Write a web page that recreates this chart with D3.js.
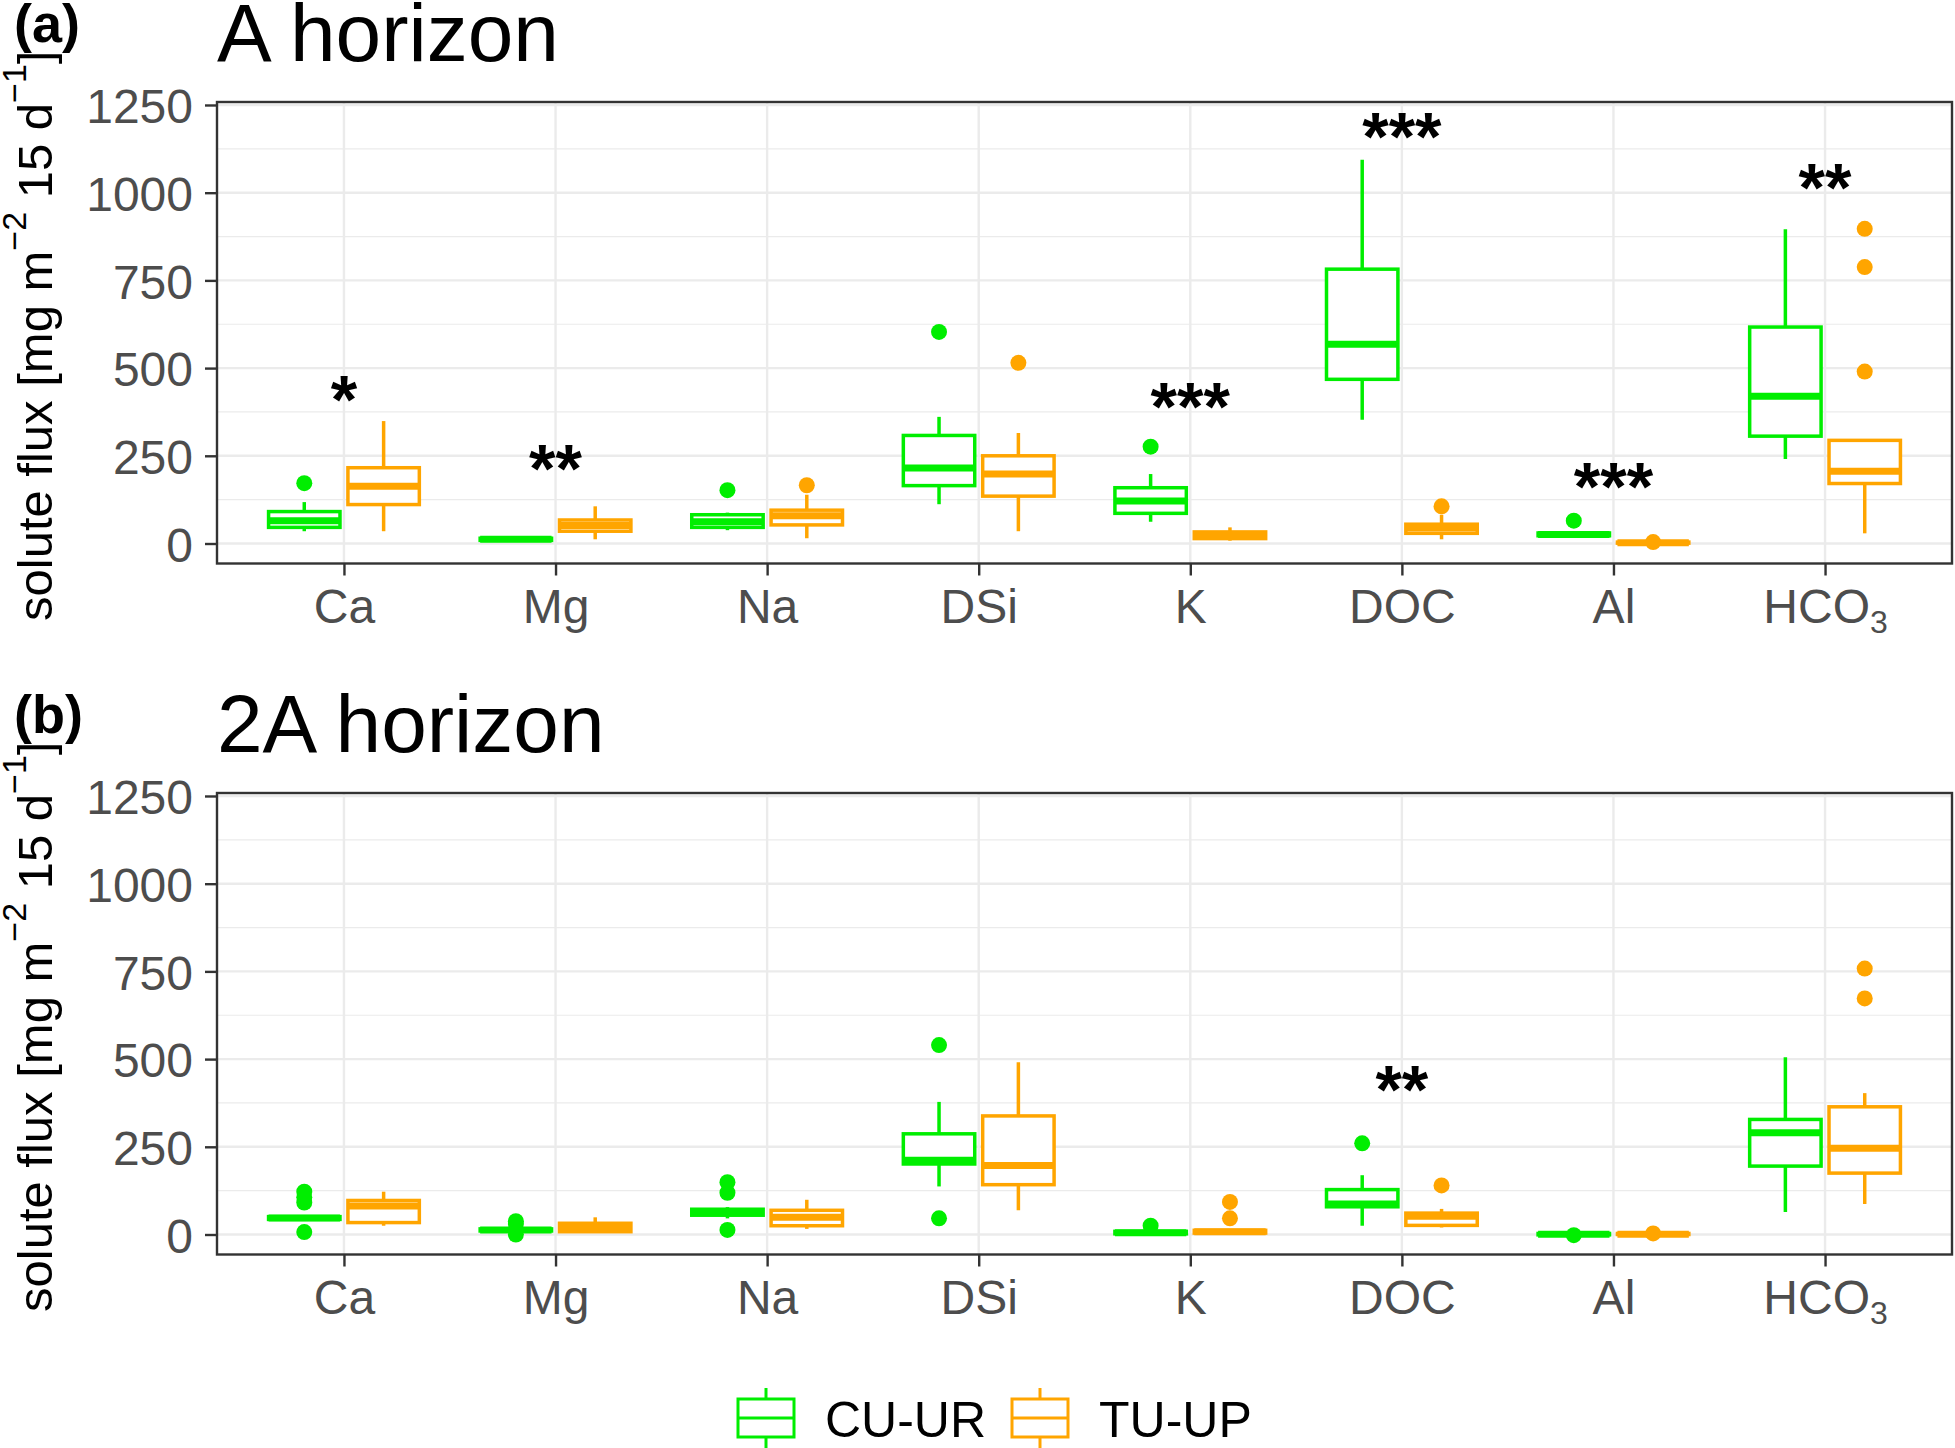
<!DOCTYPE html>
<html>
<head>
<meta charset="utf-8">
<script src="https://cdn.jsdelivr.net/npm/d3@7"></script>
<style>
  html, body { margin: 0; padding: 0; background: #fff; }
  svg { display: block; }
</style>
</head>
<body>
<svg id="chart" width="1955" height="1448"></svg>
<script>
const categories = ["Ca", "Mg", "Na", "DSi", "K", "DOC", "Al", "HCO3"];
const groups = ["CU-UR", "TU-UP"];
const groupColors = ["#00EE00", "#FFA500"];
const yTicks = [0, 250, 500, 750, 1000, 1250];
const yMinorTicks = [125, 375, 625, 875, 1125];

// box stats per category: [lower whisker, Q1, median, Q3, upper whisker]
// (a) A horizon
const aCU = [[35, 46, 65, 91, 118], [7, 9, 12, 15, 19], [38, 46, 62, 82, 88], [112, 165, 215, 308, 361],
             [62, 86, 121, 159, 198], [353, 468, 568, 782, 1094], [20, 22, 26, 30, 33], [241, 306, 420, 617, 896]];
const aTU = [[35, 111, 163, 216, 349], [12, 35, 51, 67, 106], [15, 53, 79, 95, 139], [35, 135, 198, 250, 315],
             [8, 14, 23, 33, 46], [12, 29, 44, 55, 82], [0, 1, 2, 4, 6], [29, 171, 206, 294, 294]];
const aCUout = [[172], [], [152], [603], [276], [], [65], []];
const aTUout = [[], [], [166], [515], [], [106], [4], [490, 788, 897]];
const aStars = ["*", "**", "", "", "***", "***", "***", "**"];
const aStarY = [429, 232, null, null, 408, 1179, 182, 1032];

// (b) 2A horizon
const bCU = [[40, 43, 47, 51, 54], [8, 10, 13, 16, 19], [46, 55, 64, 72, 78], [137, 201, 212, 287, 378],
             [0, 2, 5, 9, 12], [25, 79, 87, 128, 169], [-3, -1, 1, 3, 5], [64, 195, 290, 328, 505]];
const bTU = [[25, 34, 81, 97, 122], [5, 8, 20, 32, 49], [16, 25, 49, 69, 99], [69, 142, 197, 338, 491],
             [2, 4, 8, 12, 15], [20, 26, 52, 61, 73], [-2, 0, 1, 3, 4], [87, 175, 246, 364, 403]];
const bCUout = [[7, 91, 106, 122], [0, 30, 38], [13, 119, 149], [46, 540], [25], [260], [-2], []];
const bTUout = [[], [], [], [], [46, 93], [140], [3], [673, 758]];
const bStars = ["", "", "", "", "", "**", "", ""];
const bStarY = [null, null, null, null, null, 432, null, null];

const FONT = "'Liberation Sans', Arial, sans-serif";
const svg = d3.select("#chart");

const panelLeft = 217, panelRight = 1952, panelH = 461.5;
const yDomain = [-57, 1258.5];

const x = d3.scalePoint().domain(categories).range([panelLeft, panelRight]).padding(0.6);
const step = x.step();
const dodge = d3.scaleBand().domain(groups).range([-0.375 * step, 0.375 * step]);
const boxW = dodge.bandwidth() * 0.9;

const panels = [
    { top: 102, tag: "(a)", title: "A horizon", stats: [aCU, aTU], out: [aCUout, aTUout], stars: aStars, starY: aStarY },
    { top: 793, tag: "(b)", title: "2A horizon", stats: [bCU, bTU], out: [bCUout, bTUout], stars: bStars, starY: bStarY }
];

function drawPanel(p) {
    const bottom = p.top + panelH;
    const y = d3.scaleLinear().domain(yDomain).range([bottom, p.top]);
    const g = svg.append("g");

    // grid
    yMinorTicks.forEach(t => {
        g.append("line").attr("x1", panelLeft).attr("x2", panelRight)
            .attr("y1", y(t)).attr("y2", y(t))
            .attr("stroke", "#EBEBEB").attr("stroke-width", 1.2);
    });
    yTicks.forEach(t => {
        g.append("line").attr("x1", panelLeft).attr("x2", panelRight)
            .attr("y1", y(t)).attr("y2", y(t))
            .attr("stroke", "#EBEBEB").attr("stroke-width", 2.4);
    });
    categories.forEach(c => {
        g.append("line").attr("x1", x(c)).attr("x2", x(c))
            .attr("y1", p.top).attr("y2", bottom)
            .attr("stroke", "#EBEBEB").attr("stroke-width", 2.4);
    });

    // boxes
    groups.forEach((grp, gi) => {
        const col = groupColors[gi];
        categories.forEach((c, ci) => {
            const s = p.stats[gi][ci];
            const cx = x(c) + dodge(grp) + dodge.bandwidth() / 2;
            g.append("line").attr("x1", cx).attr("x2", cx)
                .attr("y1", y(s[0])).attr("y2", y(s[4]))
                .attr("stroke", col).attr("stroke-width", 3.5);
            g.append("rect")
                .attr("x", cx - boxW / 2).attr("width", boxW)
                .attr("y", y(s[3])).attr("height", Math.max(0, y(s[1]) - y(s[3])))
                .attr("fill", "white").attr("stroke", col).attr("stroke-width", 3.5);
            g.append("line").attr("x1", cx - boxW / 2).attr("x2", cx + boxW / 2)
                .attr("y1", y(s[2])).attr("y2", y(s[2]))
                .attr("stroke", col).attr("stroke-width", 7);
            p.out[gi][ci].forEach(v => {
                g.append("circle").attr("cx", cx).attr("cy", y(v)).attr("r", 8).attr("fill", col);
            });
        });
    });

    // significance stars
    categories.forEach((c, ci) => {
        if (!p.stars[ci]) return;
        g.append("text")
            .attr("x", x(c)).attr("y", y(p.starY[ci]) + 30)
            .attr("text-anchor", "middle")
            .attr("font-family", FONT).attr("font-size", 68).attr("font-weight", "bold")
            .attr("fill", "black")
            .text(p.stars[ci]);
    });

    // panel border
    g.append("rect").attr("x", panelLeft).attr("y", p.top)
        .attr("width", panelRight - panelLeft).attr("height", panelH)
        .attr("fill", "none").attr("stroke", "#333333").attr("stroke-width", 2.4);

    // axes
    const yAxis = g.append("g").attr("transform", `translate(${panelLeft},0)`)
        .call(d3.axisLeft(y).tickValues(yTicks).tickFormat(d3.format("d")).tickSize(12).tickPadding(12));
    const xAxis = g.append("g").attr("transform", `translate(0,${bottom})`)
        .call(d3.axisBottom(x).tickSize(12).tickPadding(13));
    [yAxis, xAxis].forEach(ax => {
        ax.select(".domain").remove();
        ax.selectAll(".tick line").attr("stroke", "#333333").attr("stroke-width", 2.4);
        ax.selectAll(".tick text").attr("font-family", FONT).attr("font-size", 48).attr("fill", "#4D4D4D");
    });
    yAxis.selectAll(".tick text").attr("dy", "0.37em");
    xAxis.selectAll(".tick text").each(function (d) {
        const m = d.match(/^(.*?)(\d+)$/);
        if (!m) return;
        const t = d3.select(this).text(null);
        t.append("tspan").text(m[1]);
        t.append("tspan").attr("font-size", 32).attr("dy", 10).text(m[2]);
    });

    // y axis title
    const yl = g.append("text")
        .attr("transform", `translate(52,${(p.top + bottom) / 2 + 3}) rotate(-90)`)
        .attr("text-anchor", "middle")
        .attr("font-family", FONT).attr("font-size", 49).attr("fill", "black");
    yl.append("tspan").text("solute flux [mg m");
    yl.append("tspan").attr("font-size", 34).attr("dy", -26).text("\u22122");
    yl.append("tspan").attr("dy", 26).text(" 15 d");
    yl.append("tspan").attr("font-size", 34).attr("dy", -26).text("\u22121");
    yl.append("tspan").attr("dy", 26).text("]");

    // title and tag
    g.append("text").attr("x", panelLeft).attr("y", p.top - 41)
        .attr("font-family", FONT).attr("font-size", 82).attr("fill", "black")
        .text(p.title);
    g.append("text").attr("x", 14).attr("y", p.top - 60)
        .attr("font-family", FONT).attr("font-size", 54).attr("font-weight", "bold").attr("fill", "black")
        .text(p.tag);
}

panels.forEach(drawPanel);

// legend
const legendX = [738, 1012];
groups.forEach((grp, gi) => {
    const col = groupColors[gi];
    const lx = legendX[gi], kw = 56, top = 1399, bot = 1437;
    const cx = lx + kw / 2;
    svg.append("line").attr("x1", cx).attr("x2", cx).attr("y1", 1388).attr("y2", 1448)
        .attr("stroke", col).attr("stroke-width", 3);
    svg.append("rect").attr("x", lx).attr("y", top).attr("width", kw).attr("height", bot - top)
        .attr("fill", "white").attr("stroke", col).attr("stroke-width", 3);
    svg.append("line").attr("x1", lx).attr("x2", lx + kw).attr("y1", (top + bot) / 2).attr("y2", (top + bot) / 2)
        .attr("stroke", col).attr("stroke-width", 3);
    svg.append("text").attr("x", lx + 87).attr("y", 1437)
        .attr("font-family", FONT).attr("font-size", 50).attr("fill", "black")
        .text(grp);
});
</script>
</body>
</html>
